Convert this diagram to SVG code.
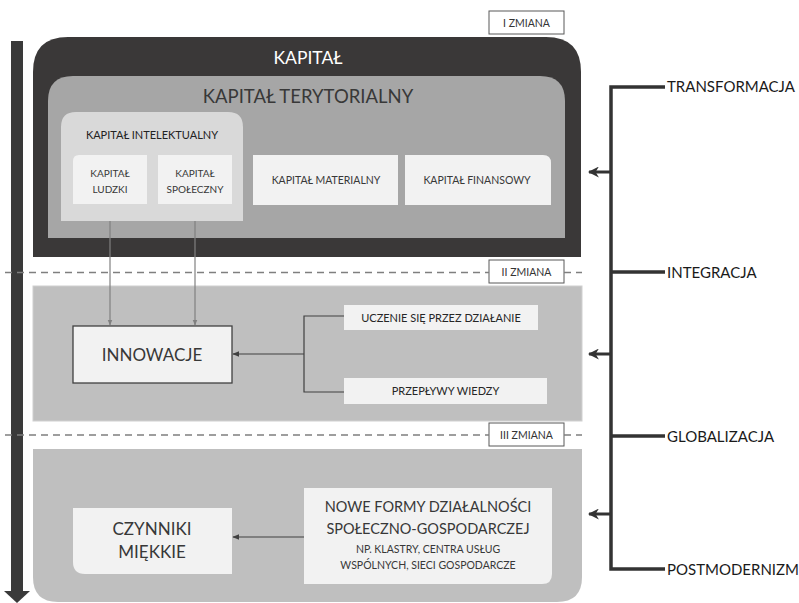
<svg xmlns="http://www.w3.org/2000/svg" width="799" height="603" viewBox="0 0 799 603">
<style>
text{font-family:Lato,"Open Sans","Liberation Sans",sans-serif;fill:#383838;text-anchor:middle}
.light{fill:#f2f2f2}
.zm{fill:#fff;stroke:#595959;stroke-width:1}
.zt{font-size:10.5px;fill:#333}
.dash{stroke:#7f7f7f;stroke-width:1.3;stroke-dasharray:7 5;fill:none}
.thin{stroke:#808080;stroke-width:1.2;fill:none}
.dk{stroke:#404040;stroke-width:1.2;fill:none}
.thick{stroke:#333;stroke-width:3.5;fill:none}
.side{font-size:15px;fill:#1a1a1a;text-anchor:start}
.sm{font-size:10px}
</style>
<defs>
<marker id="ag" viewBox="0 0 10 10" refX="9" refY="5" markerWidth="6" markerHeight="6" orient="auto" markerUnits="userSpaceOnUse"><path d="M0,1 L10,5 L0,9 z" fill="#808080"/></marker>
<marker id="ad" viewBox="0 0 10 10" refX="9" refY="5" markerWidth="7" markerHeight="7" orient="auto" markerUnits="userSpaceOnUse"><path d="M0,1 L10,5 L0,9 z" fill="#404040"/></marker>
<marker id="ab" viewBox="0 0 10 10" refX="9" refY="5" markerWidth="11" markerHeight="11" orient="auto" markerUnits="userSpaceOnUse"><path d="M0,0 L10,5 L0,10 L3,5 z" fill="#333"/></marker>
</defs>

<!-- timeline arrow -->
<g id="timeline">
<rect x="11" y="41" width="12" height="553" fill="#3a3a3a"/>
<path d="M4,591 L30,591 L17,603 z" fill="#3a3a3a"/>
</g>

<!-- Zone I -->
<g id="kapital">
<path d="M33,257 L33,72 Q33,37 68,37 L546,37 Q581,37 581,72 L581,257 z" fill="#3a3838"/>
<text x="308" y="64" style="font-size:17.5px;fill:#fff">KAPITAŁ</text>
</g>
<g id="kapital-terytorialny">
<path d="M48,238 L48,101 Q48,76 73,76 L540,76 Q565,76 565,101 L565,238 z" fill="#a6a6a6"/>
<text x="308" y="103" style="font-size:18.5px">KAPITAŁ TERYTORIALNY</text>
</g>
<g id="kapital-intelektualny">
<path d="M61,221 L61,127 Q61,112 76,112 L228,112 Q243,112 243,127 L243,221 z" fill="#d9d9d9"/>
<text x="152" y="139" style="font-size:11px;fill:#222">KAPITAŁ INTELEKTUALNY</text>
</g>
<g id="kapital-ludzki">
<path d="M73,204 L73,161 Q73,155 79,155 L147,155 L147,204 z" class="light"/>
<text x="110" y="177" class="sm">KAPITAŁ</text>
<text x="110" y="193" class="sm">LUDZKI</text>
</g>
<g id="kapital-spoleczny">
<rect x="158" y="155" width="74" height="49" class="light"/>
<text x="195" y="177" class="sm">KAPITAŁ</text>
<text x="195" y="193" class="sm">SPOŁECZNY</text>
</g>
<g id="kapital-materialny">
<rect x="253" y="155" width="145" height="50" class="light"/>
<text x="326" y="184" style="font-size:10.5px">KAPITAŁ MATERIALNY</text>
</g>
<g id="kapital-finansowy">
<path d="M405,155 L543,155 Q551,155 551,163 L551,205 L405,205 z" class="light"/>
<text x="477" y="184" style="font-size:10.5px">KAPITAŁ FINANSOWY</text>
</g>
<g id="zmiana-1">
<rect x="489" y="11" width="75" height="23" class="zm"/>
<text x="526.5" y="27" class="zt">I ZMIANA</text>
</g>

<!-- Zone II -->
<g id="zone-2">
<rect x="33" y="286" width="549" height="135" fill="#bfbfbf" stroke="#d0d0d0" stroke-width="1"/>
</g>
<g id="innowacje">
<rect x="73" y="326" width="159" height="57" fill="#f2f2f2" stroke="#404040" stroke-width="1.3"/>
<text x="152" y="361" style="font-size:17px">INNOWACJE</text>
</g>
<g id="uczenie">
<rect x="344" y="305" width="194" height="25" class="light"/>
<text x="441" y="322" style="font-size:11px;fill:#262626">UCZENIE SIĘ PRZEZ DZIAŁANIE</text>
</g>
<g id="przeplywy">
<rect x="344" y="378" width="203" height="26" class="light"/>
<text x="445.5" y="395" style="font-size:11px;fill:#262626">PRZEPŁYWY WIEDZY</text>
</g>
<g id="zmiana-2">
<rect x="489" y="260" width="75" height="23" class="zm"/>
<text x="526.5" y="276" class="zt">II ZMIANA</text>
</g>

<!-- Zone III -->
<g id="zone-3">
<path d="M33,449 L582,449 L582,577 Q582,602 557,602 L58,602 Q33,602 33,577 z" fill="#bfbfbf"/>
</g>
<g id="czynniki">
<path d="M73,508 L232,508 L232,574 L85,574 Q73,574 73,562 z" class="light"/>
<text x="152" y="535" style="font-size:17px">CZYNNIKI</text>
<text x="152" y="558" style="font-size:17px">MIĘKKIE</text>
</g>
<g id="nowe-formy">
<path d="M304,488 L552,488 L552,574 Q552,584 542,584 L304,584 z" class="light"/>
<text x="428" y="512" style="font-size:14.5px">NOWE FORMY DZIAŁALNOŚCI</text>
<text x="428" y="534" style="font-size:14.5px">SPOŁECZNO-GOSPODARCZEJ</text>
<text x="428" y="553" style="font-size:10.5px">NP. KLASTRY, CENTRA USŁUG</text>
<text x="428" y="569" style="font-size:10.5px">WSPÓLNYCH, SIECI GOSPODARCZE</text>
</g>
<g id="zmiana-3">
<rect x="489" y="423" width="75" height="23" class="zm"/>
<text x="526.5" y="439" class="zt">III ZMIANA</text>
</g>

<!-- Right labels -->
<g id="transformacja"><text x="667" y="92" class="side">TRANSFORMACJA</text></g>
<g id="integracja"><text x="667" y="278" class="side">INTEGRACJA</text></g>
<g id="globalizacja"><text x="667" y="442" class="side">GLOBALIZACJA</text></g>
<g id="postmodernizm"><text x="667" y="575" class="side">POSTMODERNIZM</text></g>

<!-- connectors -->
<g id="connectors">
<path class="dash" d="M5,272.5 L489,272.5 M564,272.5 L582,272.5"/>
<path class="dash" d="M5,435 L489,435 M564,435 L582,435"/>
<line class="thin" x1="110" y1="221" x2="110" y2="325" marker-end="url(#ag)"/>
<line class="thin" x1="195" y1="221" x2="195" y2="325" marker-end="url(#ag)"/>
<path class="dk" d="M344,316 L304,316 L304,392 L344,392"/>
<line class="dk" x1="304" y1="354" x2="233" y2="354" marker-end="url(#ad)"/>
<line class="dk" x1="304" y1="537" x2="233" y2="537" marker-end="url(#ad)"/>
<path class="thick" d="M665,87 L611,87 L611,569 L665,569 M611,272 L665,272 M611,436 L665,436"/>
<line stroke="#333" stroke-width="3" x1="611" y1="172" x2="589" y2="172" marker-end="url(#ab)"/>
<line stroke="#333" stroke-width="3" x1="611" y1="354" x2="589" y2="354" marker-end="url(#ab)"/>
<line stroke="#333" stroke-width="3" x1="611" y1="514" x2="589" y2="514" marker-end="url(#ab)"/>
</g>
</svg>
